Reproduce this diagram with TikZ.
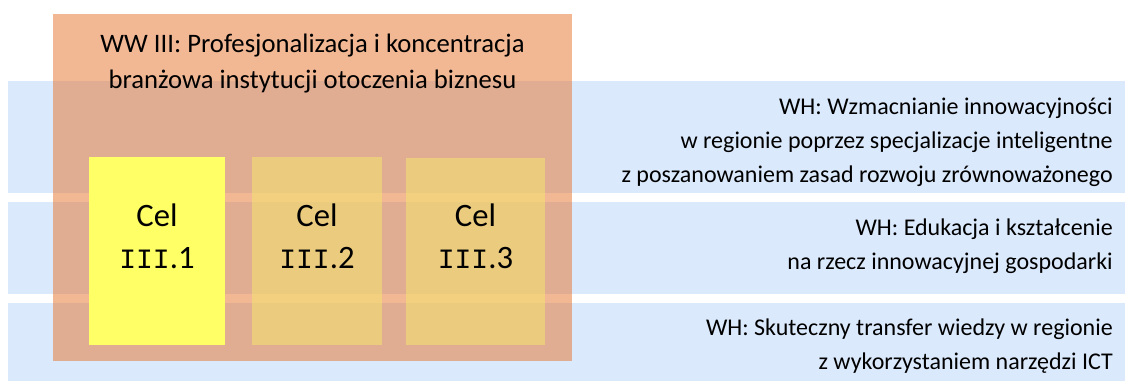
\documentclass[tikz,border=0pt]{standalone}
\usepackage{fontspec}
\setmainfont{Carlito}
\newfontfamily\romfont{Liberation Mono}
\usepackage{tikz}

\definecolor{bandblue}{RGB}{219,233,252}
\definecolor{wworange}{RGB}{231,125,60}
\definecolor{celyellow}{RGB}{255,255,102}
\definecolor{celsoft}{RGB}{242,226,115}

\tikzset{
  bandtxt/.style={anchor=east,align=right,inner sep=0pt,font=\fontsize{18}{25.5}\selectfont},
  celtxt/.style={align=center,inner sep=0pt,font=\fontsize{24.5}{31.5}\selectfont}
}
\newcommand{\rom}{{\romfont\fontsize{21}{31.5}\selectfont III}}

\begin{document}
\begin{tikzpicture}[x=0.75pt,y=-0.75pt]
\useasboundingbox (0,0) rectangle (1125,381);

% wyzwania horyzontalne
\fill[bandblue] (8,81) rectangle (1125,193);
\fill[bandblue] (8,202) rectangle (1125,294);
\fill[bandblue] (8,303) rectangle (1125,381);

% wyzwanie wertykalne
\fill[wworange,fill opacity=0.55] (53,14) rectangle (572,361);

% cele
\fill[celyellow] (89,157) rectangle (225,345);
\fill[celsoft,fill opacity=0.6] (252,157) rectangle (382,345);
\fill[celsoft,fill opacity=0.6] (406,158) rectangle (545,345);

\node[align=center,inner sep=0pt,font=\fontsize{20}{27}\selectfont] (ww) at (312.5,63.5)
  {WW III: Profesjonalizacja i koncentracja\\ branżowa instytucji otoczenia biznesu};

\node[celtxt] (cel1) at (157,236) {Cel\\ \rom.1};
\node[celtxt] (cel2) at (317,236) {Cel\\ \rom.2};
\node[celtxt] (cel3) at (475.5,236) {Cel\\ \rom.3};

\node[bandtxt] (wh1) at (1113,142.5) {WH: Wzmacnianie innowacyjności\\
  w regionie poprzez specjalizacje inteligentne\\
  z poszanowaniem zasad rozwoju zrównoważonego};
\node[bandtxt] (wh2) at (1113,246.5) {WH: Edukacja i kształcenie\\ na rzecz innowacyjnej gospodarki};
\node[bandtxt] (wh3) at (1113,346) {WH: Skuteczny transfer wiedzy w regionie\\ z wykorzystaniem narzędzi ICT};

\end{tikzpicture}
\end{document}
